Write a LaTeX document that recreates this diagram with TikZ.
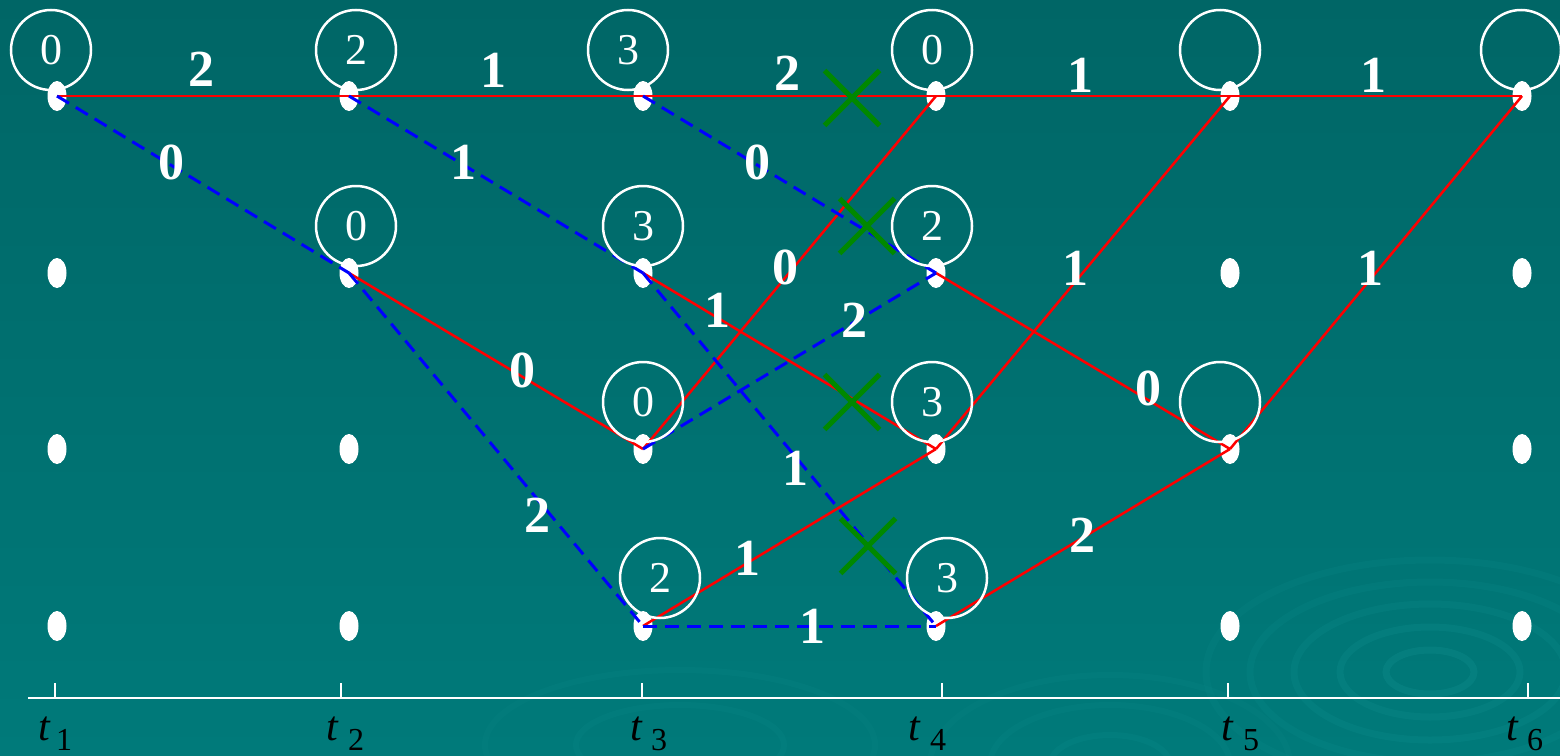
\documentclass[tikz,border=0pt]{standalone}
\usepackage{fontspec}
\setmainfont{Liberation Serif}
\usetikzlibrary{shapes.geometric,shapes.misc}
\definecolor{bgtop}{RGB}{0,102,102}
\definecolor{bgbot}{RGB}{0,122,122}
\definecolor{xgreen}{RGB}{0,136,0}
\definecolor{ripple}{RGB}{20,150,150}
\begin{document}
\begin{tikzpicture}[x=1pt,y=-1pt,
  dot/.style={ellipse, fill=white, minimum width=19pt, minimum height=30pt, inner sep=0pt},
  ring/.style={circle, draw=white, line width=2.5pt, minimum size=80pt, inner sep=0pt,
    text=white, font=\fontsize{44}{44}\selectfont},
  cost/.style={text=white, inner sep=0pt, font=\fontsize{52}{52}\selectfont\bfseries},
  redE/.style={red, line width=2.5pt},
  blueE/.style={blue, line width=3pt, dash pattern=on 14pt off 8pt},
  xmark/.style={cross out, draw=xgreen, line width=5pt, minimum size=50pt, inner sep=0pt},
  axisline/.style={white, line width=2.5pt},
  tlab/.style={inner sep=0pt, anchor=base, text=black, font=\fontsize{42}{42}\selectfont\itshape},
  tsub/.style={inner sep=0pt, anchor=base, text=black, font=\fontsize{32}{32}\selectfont}
]
% background
\useasboundingbox (0,0) rectangle (1560,755);
\shade[top color=bgtop, bottom color=bgbot] (0,0) rectangle (1560,755);
\begin{scope}
\clip (0,0) rectangle (1560,755);
\foreach \r/\o in {22/0.25,45/0.2,68/0.18,90/0.15,112/0.12}{
  \draw[ripple, opacity=\o, line width=7pt] (1430,672) ellipse ({\r*2.0} and {\r});
}
\foreach \r/\o in {30/0.15,60/0.12,90/0.1}{
  \draw[ripple, opacity=\o, line width=6pt] (1110,765) ellipse ({\r*2.0} and {\r});
}
\foreach \r/\o in {40/0.12,75/0.1}{
  \draw[ripple, opacity=\o, line width=6pt] (680,745) ellipse ({\r*2.6} and {\r});
}
\end{scope}

% dots
\foreach \c/\x in {1/57,2/349,3/643,4/936,5/1230,6/1522}{
  \foreach \r/\y in {1/96,2/273,3/449,4/626}{
    \node[dot] (d\c\r) at (\x,\y) {};
  }
}

% edges
\draw[redE] (d11.center) -- (d21.center);
\draw[redE] (d21.center) -- (d31.center);
\draw[redE] (d31.center) -- (d41.center);
\draw[redE] (d41.center) -- (d51.center);
\draw[redE] (d51.center) -- (d61.center);
\draw[redE] (d22.center) -- (d33.center);
\draw[redE] (d33.center) -- (d41.center);
\draw[redE] (d32.center) -- (d43.center);
\draw[redE] (d42.center) -- (d53.center);
\draw[redE] (d43.center) -- (d51.center);
\draw[redE] (d53.center) -- (d61.center);
\draw[redE] (d34.center) -- (d43.center);
\draw[redE] (d44.center) -- (d53.center);

\draw[blueE] (d11.center) -- (d22.center);
\draw[blueE] (d21.center) -- (d32.center);
\draw[blueE] (d31.center) -- (d42.center);
\draw[blueE] (d22.center) -- (d34.center);
\draw[blueE] (d32.center) -- (d44.center);
\draw[blueE] (d33.center) -- (d42.center);
\draw[blueE] (d34.center) -- (d44.center);

% circles
\node[ring] (c11) at (51,50) {0};
\node[ring] (c21) at (356,50) {2};
\node[ring] (c31) at (628,50) {3};
\node[ring] (c41) at (932,50) {0};
\node[ring] (c51) at (1220,50) {};
\node[ring] (c61) at (1521,50) {};
\node[ring] (c22) at (356,226) {0};
\node[ring] (c32) at (643,226) {3};
\node[ring] (c42) at (932,226) {2};
\node[ring] (c33) at (643,402) {0};
\node[ring] (c43) at (932,402) {3};
\node[ring] (c53) at (1220,402) {};
\node[ring] (c34) at (660,578) {2};
\node[ring] (c44) at (947,578) {3};

% cost labels
\node[cost] (l1) at (201,69) {2};
\node[cost] (l2) at (493,70) {1};
\node[cost] (l3) at (787,73) {2};
\node[cost] (l4) at (1080,75) {1};
\node[cost] (l5) at (1373,75) {1};
\node[cost] (l6) at (171,162) {0};
\node[cost] (l7) at (463,162) {1};
\node[cost] (l8) at (757,162) {0};
\node[cost] (l9) at (785,267) {0};
\node[cost] (l10) at (717,310) {1};
\node[cost] (l11) at (854,320) {2};
\node[cost] (l12) at (1075,268) {1};
\node[cost] (l13) at (1370,268) {1};
\node[cost] (l14) at (522,370) {0};
\node[cost] (l15) at (1148,388) {0};
\node[cost] (l16) at (795,468) {1};
\node[cost] (l17) at (537,515) {2};
\node[cost] (l18) at (1082,535) {2};
\node[cost] (l19) at (747,558) {1};
\node[cost] (l20) at (812,626) {1};

% crosses
\node[xmark] (x1) at (852,98) {};
\node[xmark] (x2) at (867,226) {};
\node[xmark] (x3) at (852,402) {};
\node[xmark] (x4) at (868,546) {};

% time axis
\coordinate (a0) at (28,698);
\coordinate (a1) at (1560,698);
\draw[axisline] (a0) -- (a1);
\foreach \i/\x/\tx/\sx in {1/55/44/64,2/341/332/356,3/642/636/659,4/942/914/938,5/1228/1227/1251,6/1528/1512/1535}{
  \coordinate (k\i) at (\x,683);
  \coordinate (kb\i) at (\x,698);
  \draw[axisline] (k\i) -- (kb\i);
  \node[tlab] (t\i) at (\tx,740) {t};
  \node[tsub] (s\i) at (\sx,750) {\i};
}
\end{tikzpicture}
\end{document}
